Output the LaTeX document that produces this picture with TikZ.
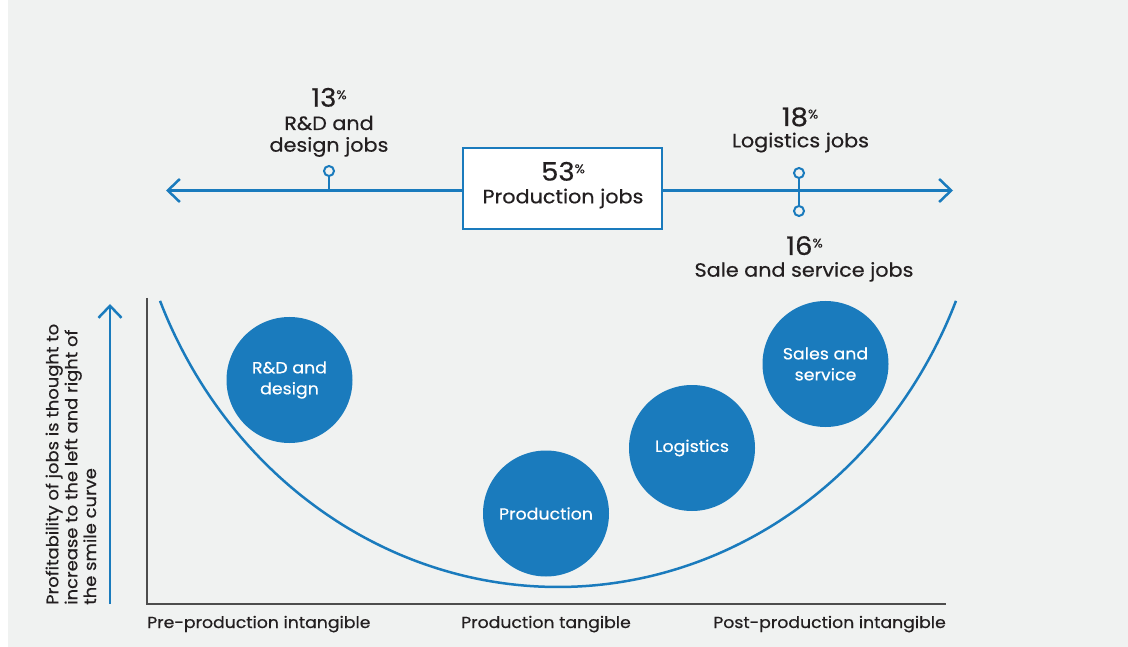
\documentclass[tikz,border=0pt]{standalone}
\usepackage{fontspec}
\setmainfont{Poppins}[FakeStretch=1.08, FakeBold=0.5]
\usetikzlibrary{arrows.meta}
\definecolor{bgc}{HTML}{F0F2F1}
\definecolor{bl}{HTML}{1A7BBD}
\definecolor{ink}{HTML}{231F20}
\definecolor{axc}{HTML}{4D4D4D}
% small raised percent sign after a share figure
\newcommand\pc{\raisebox{7.5pt}{\fontsize{12.5}{12.5}\selectfont\%}}
\begin{document}
\begin{tikzpicture}[x=1pt,y=-1pt,
  lbl/.style={text=ink, font=\fontsize{19.2}{22}\selectfont, inner sep=0, anchor=base},
  num/.style={text=ink, font=\fontsize{25.5}{28}\selectfont, inner sep=0, anchor=base},
  axlbl/.style={text=ink, font=\fontsize{16}{20}\selectfont, inner sep=0, anchor=base},
  sidelbl/.style={text=ink, font=\fontsize{16.6}{20}\selectfont, inner sep=0, anchor=base west, rotate=90},
  bubble/.style={circle, fill=bl, text=white, minimum size=126pt, inner sep=0,
    align=center, font=\fontsize{16.1}{21}\selectfont},
  pinc/.style={circle, draw=bl, fill=bgc, line width=2pt, minimum size=10pt, inner sep=0},
  blueline/.style={draw=bl, line width=2.5pt},
  barb/.style={-{Straight Barb[length=12pt,width=23pt]}},
]
\useasboundingbox (0,0) rectangle (1128,647);
\fill[white] (0,0) rectangle (1128,647);
\fill[bgc] (8,0) rectangle (1128,647);

% ---- share of jobs along the value chain ----
\coordinate (L) at (166,190.5);
\coordinate (R) at (953,190.5);
\node[draw=bl, line width=2.5pt, fill=white, minimum width=199pt, minimum height=81pt, inner sep=0] (box) at (562.5,188.5) {};
\draw[blueline, barb] (box.west |- L) -- (L);
\draw[blueline, barb] (box.east |- R) -- (R);

\node[num] (p53) at (563,180.7) {53\pc};
\node[lbl] (t53) at (563,203.3) {Production jobs};

% R&D marker
\coordinate (rdbase) at (329,190.5);
\node[pinc] (rdpin) at (329,171) {};
\draw[blueline] (rdpin) -- (rdbase);
\node[num] (p13) at (329,106.7) {13\pc};
\node[lbl] (t13a) at (329,130) {R\&D and};
\node[lbl] (t13b) at (329,151.7) {design jobs};

% logistics / sales marker
\node[pinc] (lgpin) at (799,173) {};
\node[pinc] (sspin) at (799,211) {};
\draw[blueline] (lgpin) -- (sspin);
\node[num] (p18) at (800,126) {18\pc};
\node[lbl] (t18) at (800.5,147.3) {Logistics jobs};
\node[num] (p16) at (804.5,255) {16\pc};
\node[lbl] (t16) at (804,276.7) {Sale and service jobs};

% ---- smile curve chart ----
\coordinate (ytop) at (147,298);
\coordinate (xend) at (946,604);
\draw[axc, line width=2pt] (ytop) |- (xend);

\coordinate (pa0) at (110,604);
\coordinate (pa1) at (110,304);
\draw[blueline, barb] (pa0) -- (pa1);

\node[sidelbl] (s1) at (58.3,605) {Profitability of jobs is thought to};
\node[sidelbl] (s2) at (77.3,605) {increase to the left and right of};
\node[sidelbl] (s3) at (96,605) {the smile curve};

\draw[bl, line width=2.5pt] plot[domain=157.4:22.6, samples=120, smooth]
  ({558+431.1*cos(\x)},{122.3+464.7*sin(\x)});

\node[bubble] (crd) at (289.5,380) {R\&D and\\design};
\node[bubble] (cpr) at (546,513.5) {Production};
\node[bubble] (clg) at (692,448) {Logistics};
\node[bubble] (css) at (825.5,364) {Sales and\\service};

\node[axlbl, anchor=base west] (x1) at (147,628) {Pre-production intangible};
\node[axlbl] (x2) at (546,628) {Production tangible};
\node[axlbl, anchor=base east] (x3) at (946,628) {Post-production intangible};
\end{tikzpicture}
\end{document}
